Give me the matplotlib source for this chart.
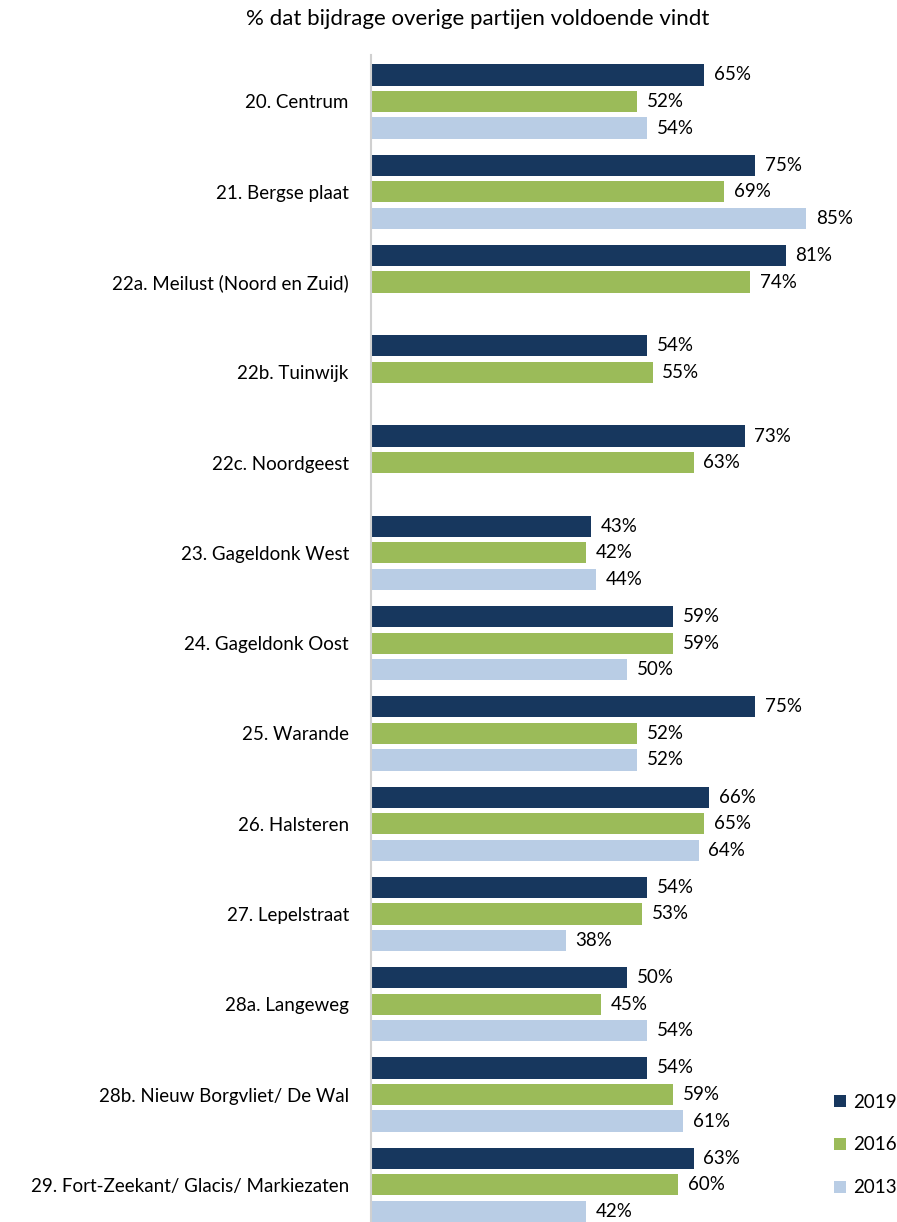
import numpy as np
import matplotlib.pyplot as plt

plt.rcParams['font.family'] = ['Lato', 'DejaVu Sans']

categories = ['20. Centrum', '21. Bergse plaat', '22a. Meilust (Noord en Zuid)',
              '22b. Tuinwijk', '22c. Noordgeest', '23. Gageldonk West',
              '24. Gageldonk Oost', '25. Warande', '26. Halsteren',
              '27. Lepelstraat', '28a. Langeweg', '28b. Nieuw Borgvliet/ De Wal',
              '29. Fort-Zeekant/ Glacis/ Markiezaten']
v2019 = [65, 75, 81, 54, 73, 43, 59, 75, 66, 54, 50, 54, 63]
v2016 = [52, 69, 74, 55, 63, 42, 59, 52, 65, 53, 45, 59, 60]
v2013 = [54, 85, None, None, None, 44, 50, 52, 64, 38, 54, 61, 42]

series = [('2019', v2019, '#17375E'), ('2016', v2016, '#9BBB59'), ('2013', v2013, '#B9CDE5')]

fs = 13.5

fig = plt.figure(figsize=(8.97, 12.22), dpi=100)
ax = fig.add_axes([371 / 897, 0, 512 / 897, 1 - 55 / 1222])

group_step = 3.4
base = np.arange(len(categories)) * group_step
for j, (name, vals, col) in enumerate(series):
    y = base + j
    vv = np.array([np.nan if v is None else v for v in vals], dtype=float)
    ax.barh(y, vv, height=0.8, color=col, label=name)
    for yi, v in zip(y, vals):
        if v is not None:
            ax.text(v + 1.9, yi, f'{v}%', va='center', ha='left', fontsize=fs, color='#000000')

ax.set_xlim(0, 100)
ax.set_ylim(43.2, -0.75)
ax.set_yticks(base + 1)
ax.set_yticklabels(categories, fontsize=fs)
ax.tick_params(axis='y', length=0, pad=16)
ax.set_xticks([])
for s in ['top', 'right', 'bottom']:
    ax.spines[s].set_visible(False)
ax.spines['left'].set_color('#D0D0D0')
ax.spines['left'].set_linewidth(1.5)

fig.text(478 / 897, 1 - 19 / 1222, '% dat bijdrage overige partijen voldoende vindt',
         ha='center', va='center', fontsize=16)

fig.legend(loc='center left', bbox_to_anchor=(826 / 897, 1 - 1145 / 1222), frameon=False,
           fontsize=fs, handlelength=0.65, handleheight=0.65, labelspacing=1.38,
           handletextpad=0.4, borderaxespad=0)

fig.savefig('out.png', dpi=100)
